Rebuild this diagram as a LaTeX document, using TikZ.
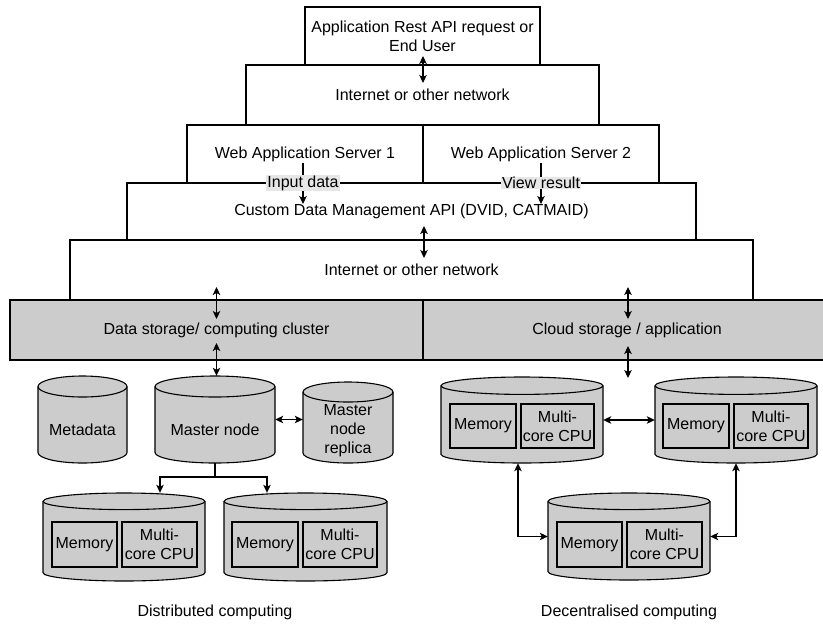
\documentclass[tikz,border=0pt]{standalone}
\usepackage{fontspec}
\setmainfont{Liberation Sans}
\usetikzlibrary{arrows.meta,fit,calc}
\definecolor{cgray}{HTML}{CCCCCC}
\definecolor{lgray}{HTML}{E6E6E6}
\newcommand\fs{\fontsize{16}{19}\selectfont}
\newcommand\mycyl[6]{% name, x1, y1, x2, y2, ry
  \path[draw,line width=1.1pt,fill=cgray] (#2,{-#3-#6}) -- (#2,{-#5+#6})
    arc[start angle=180,end angle=360,x radius={(#4-#2)/2},y radius=#6]
    -- (#4,{-#3-#6})
    arc[start angle=0,end angle=180,x radius={(#4-#2)/2},y radius=#6] -- cycle;
  \draw[line width=1.1pt] (#2,{-#3-#6}) arc[start angle=180,end angle=360,x radius={(#4-#2)/2},y radius=#6];
  \node[fit={(#2,-#3) (#4,-#5)},inner sep=0pt] (#1) {};
}
\tikzset{
  box/.style={draw,line width=1.1pt,inner sep=0pt,font=\fs,align=center},
  gbox/.style={box,fill=cgray},
  txt/.style={font=\fs,align=center,inner sep=0pt},
  lblbg/.style={font=\fs,fill=lgray,inner xsep=1pt,inner ysep=0.5pt},
  arr/.style={line width=1.1pt,-{Stealth[length=8pt,width=7.5pt,inset=2pt]}},
  darr/.style={line width=1.1pt,{Stealth[length=8pt,width=7.5pt,inset=2pt]}-{Stealth[length=8pt,width=7.5pt,inset=2pt]}},
}
\begin{document}
\begin{tikzpicture}[x=1pt,y=1pt]
\useasboundingbox (0,0) rectangle (823,-625);
% layered boxes
\node[box,minimum width=235pt,minimum height=58pt] (top) at (422.5,-36) {Application Rest API request or\\End User};
\node[box,minimum width=353pt,minimum height=60pt] (inet1) at (422.5,-95) {Internet or other network};
\node[box,minimum width=236pt,minimum height=58pt] (web1) at (305,-154) {Web Application Server 1};
\node[box,minimum width=236pt,minimum height=58pt] (web2) at (541,-154) {Web Application Server 2};
\node[box,minimum width=569pt,minimum height=57pt] (api) at (411.5,-211.5) {Custom Data Management API (DVID, CATMAID)};
\node[box,minimum width=683pt,minimum height=60pt] (inet2) at (411.5,-270) {Internet or other network};
\node[gbox,minimum width=413pt,minimum height=60pt] (dsc) at (216.5,-330) {Data storage/ computing cluster};
\node[gbox,minimum width=420pt,minimum height=60pt,text width=1pt] (cloud) at (633,-330) {};
\node[txt] (cloudtxt) at (627,-330) {Cloud storage / application};
% top arrow
\coordinate (a1s) at (423,-56); \coordinate (a1e) at (423,-83);
\draw[darr] (a1s) -- (a1e);
% input / view
\coordinate (in1s) at (303,-163); \coordinate (in1e) at (303,-204);
\draw[arr] (in1s) -- (in1e);
\node[lblbg] (inlbl) at (303,-183) {Input data};
\coordinate (in2s) at (541,-163); \coordinate (in2e) at (541,-204);
\draw[arr] (in2s) -- (in2e);
\node[lblbg] (vwlbl) at (541,-183) {View result};
% api to inet2
\coordinate (a2s) at (424,-226); \coordinate (a2e) at (424,-258);
\draw[darr] (a2s) -- (a2e);
% inet2 to grey row
\coordinate (a3s) at (216.5,-287); \coordinate (a3e) at (216.5,-319);
\draw[darr] (a3s) -- (a3e);
\coordinate (a4s) at (628,-287); \coordinate (a4e) at (628,-319);
\draw[darr] (a4s) -- (a4e);
% left cylinders
\mycyl{meta}{38}{376}{127}{463}{10.5}
\node[txt] (metatxt) at (82.5,-430) {Metadata};
\mycyl{master}{155}{376}{275}{463}{10.5}
\node[txt] (mastertxt) at (215,-430) {Master node};
\mycyl{repl}{303}{382}{393}{463}{10}
\node[txt] (repltxt) at (348,-431) {Master\\node\\replica};
\coordinate (a5s) at (216.5,-343);
\draw[darr] (a5s) -- (216.5,0 |- master.north);
\draw[darr] (master.east) -- (master.east -| repl.west);
% distributed cylinders
\mycyl{cA}{43}{493}{205}{581}{8.3}
\node[gbox,minimum width=65pt,minimum height=45pt] (memA) at (84.5,-544.5) {Memory};
\node[gbox,minimum width=75pt,minimum height=45pt] (cpuA) at (159.5,-544.5) {Multi-\\core CPU};
\mycyl{cB}{224}{493}{387}{581}{8.3}
\node[gbox,minimum width=66pt,minimum height=45pt] (memB) at (265,-544.5) {Memory};
\node[gbox,minimum width=74pt,minimum height=45pt] (cpuB) at (340,-544.5) {Multi-\\core CPU};
\coordinate (split) at (215,-477);
\draw[line width=1.1pt] (master.south) -- (split);
\draw[arr] (split) -| (160,0 |- cA.north);
\draw[arr] (split) -| (267,0 |- cB.north);
\node[txt] (distr) at (215,-612) {Distributed computing};
% decentralised cylinders
\mycyl{cC}{441}{377}{603}{463}{8.7}
\node[gbox,minimum width=66pt,minimum height=44pt] (memC) at (483,-426) {Memory};
\node[gbox,minimum width=73pt,minimum height=44pt] (cpuC) at (557.5,-426) {Multi-\\core CPU};
\mycyl{cD}{655}{377}{817}{463}{8.7}
\node[gbox,minimum width=66pt,minimum height=44pt] (memD) at (696,-426) {Memory};
\node[gbox,minimum width=74pt,minimum height=44pt] (cpuD) at (771,-426) {Multi-\\core CPU};
\mycyl{cE}{548}{493}{710}{580}{8.3}
\node[gbox,minimum width=65pt,minimum height=45pt] (memE) at (589.5,-544.5) {Memory};
\node[gbox,minimum width=75pt,minimum height=45pt] (cpuE) at (664.5,-544.5) {Multi-\\core CPU};
\coordinate (a6s) at (628,-346); \coordinate (a6e) at (628,-378);
\draw[darr] (a6s) -- (a6e);
\draw[darr] (cC.east) -- (cD.west);
\draw[darr] (518,0 |- cC.south) |- (cE.west);
\draw[darr] (cD.south) |- (cE.east);
\node[txt] (decent) at (629,-612) {Decentralised computing};
\end{tikzpicture}
\end{document}
